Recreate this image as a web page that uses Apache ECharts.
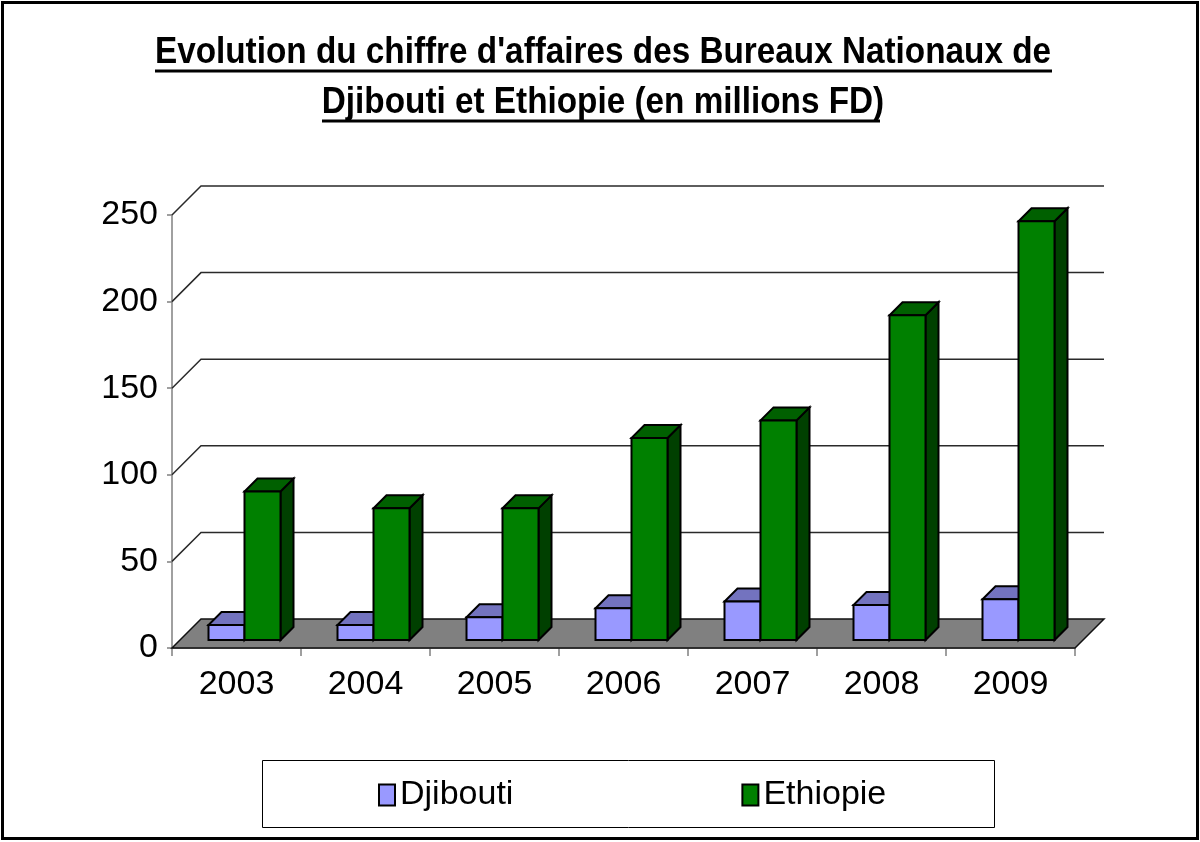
<!DOCTYPE html>
<html><head><meta charset="utf-8">
<script src="https://cdn.jsdelivr.net/npm/echarts@6/dist/echarts.min.js"></script>
<style>html,body{margin:0;padding:0;background:#fff}#c{width:1200px;height:842px}</style>
</head><body><div id="c"></div>
<script>
// ---- data ----
const years = ['2003', '2004', '2005', '2006', '2007', '2008', '2009'];
const djibouti = [8.7, 8.7, 13.1, 18.3, 22.2, 20.2, 23.5];
const ethiopie = [85.7, 76.1, 76.0, 116.6, 126.8, 187.5, 241.8];
const yTicks = [0, 50, 100, 150, 200, 250];
const titleText = "Evolution du chiffre d'affaires des Bureaux Nationaux de\nDjibouti et Ethiopie (en millions FD)";

// ---- style ----
const FONT = "'Liberation Sans',Arial,sans-serif";
const DEPTH = 29;      // depth of the 3D walls (px)
const BAR_OFF = 8;     // distance from front plane to bar front face (px)
const BAR_DEPTH = 13;  // bar depth (px)
const BAR_W = 36;      // bar width (px)

function wallRender(params, api) {
  const cs = params.coordSys;
  const v = api.value(1);
  const y = api.coord([0, v])[1];
  const x0 = cs.x, x1 = cs.x + cs.width;
  if (v === 0) {
    return {
      type: 'polygon',
      shape: { points: [[x0, y], [x1, y], [x1 + DEPTH, y - DEPTH], [x0 + DEPTH, y - DEPTH]] },
      style: { fill: '#808080', stroke: '#111', lineWidth: 1.5 }
    };
  }
  return {
    type: 'polyline',
    shape: { points: [[x0, y], [x0 + DEPTH, y - DEPTH], [x1 + DEPTH, y - DEPTH]] },
    style: { fill: null, stroke: '#2a2a2a', lineWidth: 1.5 }
  };
}

function makeBarRender(left, face, top, side) {
  return function (params, api) {
    const idx = api.value(0), val = api.value(1);
    const b = api.coord([idx, 0]);
    const t = api.coord([idx, val]);
    const cx = b[0] + BAR_OFF;
    const x0 = left ? cx - BAR_W : cx;
    const x1 = x0 + BAR_W;
    const yb = b[1] - BAR_OFF;
    const yt = t[1] - BAR_OFF;
    const d = BAR_DEPTH;
    const st = { stroke: '#000', lineWidth: 2, lineJoin: 'miter' };
    return {
      type: 'group',
      children: [
        { type: 'polygon', shape: { points: [[x1, yb], [x1, yt], [x1 + d, yt - d], [x1 + d, yb - d]] }, style: Object.assign({ fill: side }, st) },
        { type: 'polygon', shape: { points: [[x0, yt], [x1, yt], [x1 + d, yt - d], [x0 + d, yt - d]] }, style: Object.assign({ fill: top }, st) },
        { type: 'rect', shape: { x: x0, y: yt, width: BAR_W, height: yb - yt }, style: Object.assign({ fill: face }, st) }
      ]
    };
  };
}

const chart = echarts.init(document.getElementById('c'), null, { renderer: 'canvas' });
chart.setOption({
  animation: false,
  backgroundColor: '#fff',
  legend: {
    left: 373, top: 773,
    itemWidth: 16, itemHeight: 21, itemGap: 228,
    icon: 'rect',
    textStyle: { fontFamily: FONT, fontSize: 34, color: '#000' },
    data: [
      { name: 'Djibouti', itemStyle: { color: '#9999FF', borderColor: '#000', borderWidth: 2 } },
      { name: 'Ethiopie', itemStyle: { color: '#008000', borderColor: '#000', borderWidth: 2 } }
    ]
  },
  grid: { left: 172, right: 125, top: 215, bottom: 194 },
  xAxis: {
    type: 'category', data: years, boundaryGap: true,
    axisLine: { lineStyle: { color: '#808080', width: 1.5 } },
    axisTick: { show: true, length: 8, lineStyle: { color: '#808080', width: 1.5 } },
    axisLabel: { fontFamily: FONT, fontSize: 34, color: '#000', margin: 20 },
    splitLine: { show: false }
  },
  yAxis: {
    type: 'value', min: 0, max: 250, interval: 50,
    axisLine: { show: true, lineStyle: { color: '#808080', width: 1.5 } },
    axisTick: { show: true, length: 5, lineStyle: { color: '#808080', width: 1.5 } },
    axisLabel: { fontFamily: FONT, fontSize: 34, color: '#000', margin: 14 },
    splitLine: { show: false }
  },
  graphic: [
    {
      type: 'text', x: 603, y: 28, scaleX: 0.9, z: 100,
      style: { text: titleText, fontFamily: FONT, fontWeight: 'bold', fontSize: 37, lineHeight: 50, fill: '#000', align: 'center', verticalAlign: 'top' }
    },
    { type: 'rect', shape: { x: 2.5, y: 2.5, width: 1195, height: 836 }, style: { fill: null, stroke: '#000', lineWidth: 3 }, z: 100 },
    { type: 'rect', shape: { x: 262.5, y: 760.5, width: 732, height: 67 }, style: { fill: null, stroke: '#000', lineWidth: 1 }, z: 100 },
    { type: 'line', shape: { x1: 155, y1: 71, x2: 1052, y2: 71 }, style: { stroke: '#000', lineWidth: 3 }, z: 100 },
    { type: 'line', shape: { x1: 322, y1: 121, x2: 880, y2: 121 }, style: { stroke: '#000', lineWidth: 3 }, z: 100 }
  ],
  series: [
    {
      name: 'walls', type: 'custom', z: 1, silent: true,
      data: yTicks.map(v => [0, v]),
      renderItem: wallRender
    },
    {
      name: 'Djibouti', type: 'custom', z: 3,
      itemStyle: { color: '#9999FF' },
      data: djibouti.map((v, i) => [i, v]),
      renderItem: makeBarRender(true, '#9999FF', '#7373BF', '#4D4D80')
    },
    {
      name: 'Ethiopie', type: 'custom', z: 4,
      itemStyle: { color: '#008000' },
      data: ethiopie.map((v, i) => [i, v]),
      renderItem: makeBarRender(false, '#008000', '#006000', '#004000')
    }
  ]
});
</script>
</body></html>
